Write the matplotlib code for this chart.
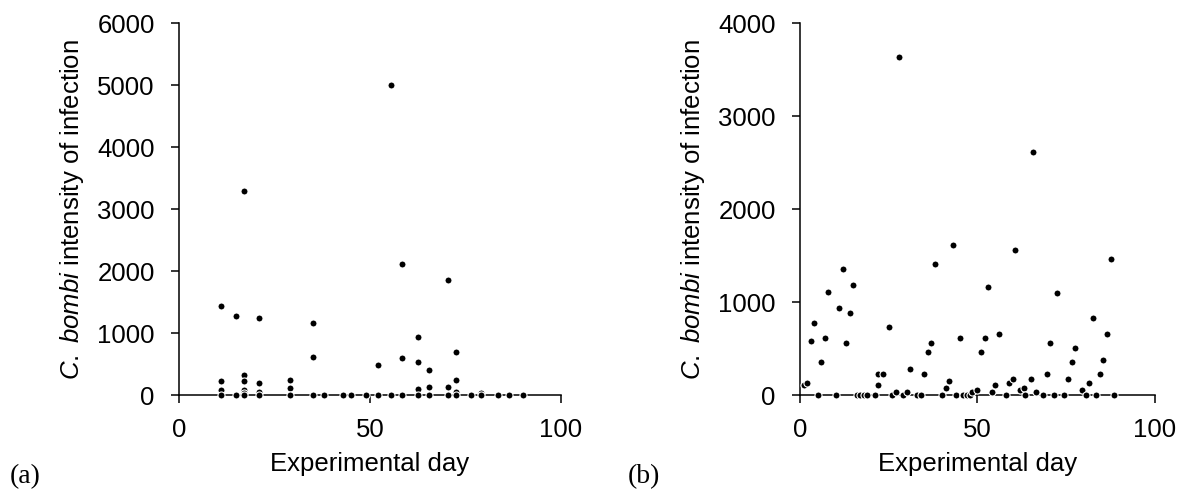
import matplotlib
matplotlib.use('Agg')
import matplotlib.pyplot as plt

plt.rcParams['font.family'] = ['Liberation Sans', 'DejaVu Sans']
plt.rcParams['mathtext.fontset'] = 'custom'
plt.rcParams['mathtext.rm'] = 'Liberation Sans'
plt.rcParams['mathtext.it'] = 'Liberation Sans:italic'

# panel (a): day, intensity
days_a = [11, 11, 11, 11, 15, 15, 17, 17, 17, 17, 17, 17, 21, 21, 21, 21,
          29, 29, 29, 35, 35, 35, 38, 43, 45, 49, 52, 52, 55.5, 55.5,
          58.5, 58.5, 58.5, 62.5, 62.5, 62.5, 62.5, 65.5, 65.5, 65.5,
          70.5, 70.5, 70.5, 72.5, 72.5, 72.5, 72.5, 76.5, 79, 79, 83.5, 86.5, 90]
vals_a = [1440, 225, 80, 0, 1280, 0, 3300, 330, 225, 90, 30, 0, 1240, 200, 60, 0,
          250, 125, 0, 1160, 610, 0, 0, 0, 0, 0, 480, 0, 5000, 0,
          2110, 600, 0, 940, 540, 100, 0, 400, 130, 0,
          1860, 130, 0, 690, 250, 60, 0, 0, 30, 0, 0, 0, 0]

# panel (b)
days_b = [1, 2, 3, 4, 5, 6, 7, 8, 10, 11, 12, 13, 14, 15,
          16, 17, 18, 19, 21, 22, 22, 23.5, 25, 26, 27, 28, 29, 30, 31, 33, 34,
          35, 36, 37, 38, 40, 41, 42, 43, 44, 45, 46, 47, 48, 48.5, 50, 51, 52,
          53, 54, 55, 56, 58, 59, 60, 60.5, 62, 63, 63.5, 65, 65.5, 66.5, 68.5,
          69.5, 70.5, 71.5, 72.5, 74.5, 75.5, 76.5, 77.5, 79.5, 80.5, 81.5,
          82.5, 83.5, 84.5, 85.5, 86.5, 87.5, 88.5]
vals_b = [110, 130, 580, 780, 0, 360, 610, 1115, 0, 935, 1360, 560, 885, 1185,
          0, 0, 0, 0, 0, 110, 230, 230, 735, 0, 35, 3640, 0, 30, 280, 0, 0,
          230, 460, 560, 1410, 0, 80, 155, 1610, 0, 610, 0, 0, 0, 35, 55, 460, 610,
          1160, 30, 105, 660, 0, 130, 180, 1560, 55, 80, 0, 180, 2615, 30, 0,
          230, 560, 0, 1095, 0, 180, 360, 510, 55, 0, 130,
          835, 0, 230, 380, 660, 1465, 0]

ylabel = r'$\mathit{C.\ bombi}$ intensity of infection'
fs = 18.5

fig = plt.figure(figsize=(11.87, 4.91), dpi=100)
ax_a = fig.add_axes([0.1508, 0.195, 0.3218, 0.758])
ax_b = fig.add_axes([0.6740, 0.195, 0.2990, 0.758])

for ax, d, v, ymax in [(ax_a, days_a, vals_a, 6000), (ax_b, days_b, vals_b, 4000)]:
    ax.scatter(d, v, s=26, c='black', edgecolors='white', linewidths=0.8,
               zorder=3, clip_on=False)
    ax.set_xlim(0, 100)
    ax.set_ylim(0, ymax)
    ax.set_xticks([0, 50, 100])
    ax.set_yticks(range(0, ymax + 1, 1000))
    ax.spines['top'].set_visible(False)
    ax.spines['right'].set_visible(False)
    ax.spines['left'].set_linewidth(1.1)
    ax.spines['bottom'].set_linewidth(1.1)
    ax.tick_params(direction='out', length=5.5, width=1.1, labelsize=fs)
    ax.tick_params(axis='y', pad=12)
    ax.tick_params(axis='x', pad=11)
    ax.set_xlabel('Experimental day', fontsize=fs, labelpad=7)
    ax.set_ylabel(ylabel, fontsize=fs, labelpad=8)

fig.text(0.008, 1 - 477 / 491, '(a)', fontsize=20, family='Liberation Serif', va='center')
fig.text(0.529, 1 - 477 / 491, '(b)', fontsize=20, family='Liberation Serif', va='center')

fig.savefig('out.png', dpi=100)
